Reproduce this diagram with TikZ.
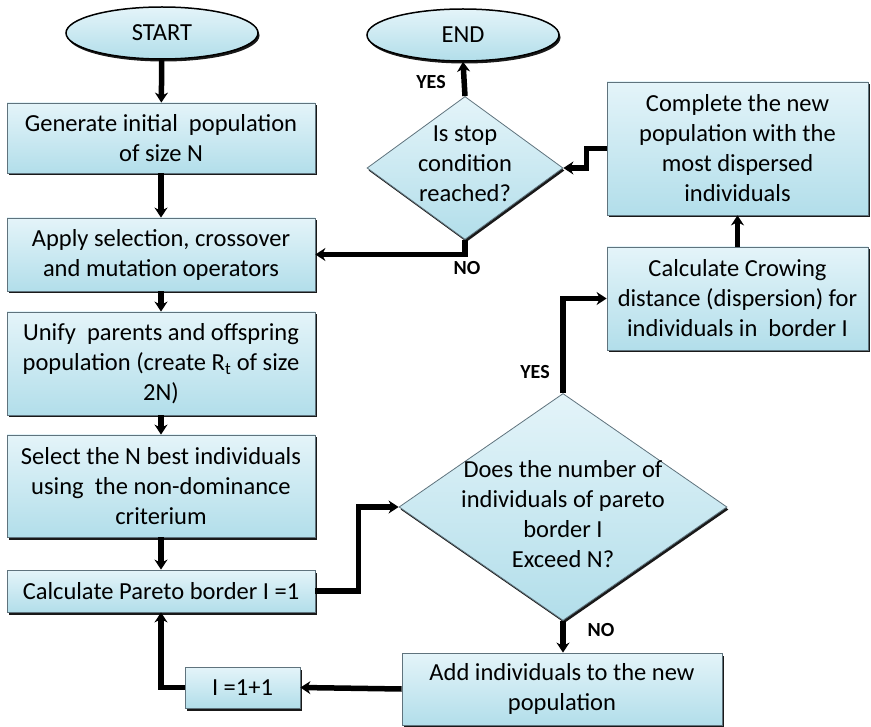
\documentclass[tikz,border=0pt]{standalone}
\usepackage{fontspec}
\setmainfont{Carlito}
\usepackage{tikz}
\usetikzlibrary{shapes.geometric,arrows.meta,shadows}

\definecolor{boxtop}{RGB}{228,244,249}
\definecolor{boxbot}{RGB}{178,222,234}
\definecolor{boxline}{RGB}{95,115,125}

\begin{document}
\begin{tikzpicture}[x=1pt,y=-1pt,
            every node/.style={font=\fontsize{24.5}{30}\selectfont},
            base/.style={draw=boxline,line width=0.8pt,top color=boxtop,bottom color=boxbot,
              drop shadow={shadow xshift=1.5pt,shadow yshift=-2.5pt,fill=black,opacity=0.9}},
            process/.style={base,rectangle,inner sep=0pt,align=center},
            terminal/.style={base,ellipse,draw=black,line width=1.5pt,inner sep=0pt,
              minimum width=192pt,minimum height=52pt},
            decision/.style={base,diamond,inner sep=0pt},
            answer/.style={font=\fontsize{20}{22}\selectfont\bfseries},
            flow/.style={line width=5.5pt,-{Stealth[length=10pt,width=13pt]}}]
            \useasboundingbox (0,0) rectangle (871,727);

            % left column
            \node[terminal] (start) at (162,33) {START};
            \node[process,minimum width=308pt,minimum height=70pt] (gen) at (161,138)
              {Generate initial\ \ population\\of size N};
            \node[process,minimum width=308pt,minimum height=73pt] (apply) at (161,254.5)
              {Apply selection, crossover\\and mutation operators};
            \node[process,minimum width=308pt,minimum height=103pt] (unify) at (161,363.5)
              {Unify\ \ parents and offspring\\population (create R\textsubscript{t} of size\\2N)};
            \node[process,minimum width=308pt,minimum height=102pt] (select) at (161,486)
              {Select the N best individuals\\using\ \ the non-dominance\\criterium};
            \node[process,minimum width=308pt,minimum height=42pt] (pareto) at (161,591)
              {Calculate Pareto border I =1};
            \node[process,minimum width=115pt,minimum height=41pt] (inc) at (242.5,687.5)
              {I =1+1};

            % right side
            \node[terminal] (end) at (463,35) {END};
            \node[decision,minimum width=196pt,minimum height=143pt] (q1) at (465,168) {};
            \node[align=center] (q1text) at (465,164) {Is stop\\condition\\reached?};
            \node[process,minimum width=261pt,minimum height=133pt] (comp) at (737.5,148.5)
              {Complete the new\\population with the\\most dispersed\\individuals};
            \node[process,minimum width=261pt,minimum height=103pt] (crow) at (737.5,298.5)
              {Calculate Crowing\\distance (dispersion) for\\individuals in\ \ border I};
            \node[decision,minimum width=328pt,minimum height=227pt] (q2) at (563,507) {};
            \node[align=center] (q2text) at (563,514)
              {Does the number of\\individuals of pareto\\border I\\Exceed N?};
            \node[process,minimum width=320pt,minimum height=72pt] (add) at (562,689)
              {Add individuals to the new\\population};

            % yes / no labels
            \node[answer] (yes1) at (431,82) {YES};
            \node[answer] (no1) at (467,268) {NO};
            \node[answer] (yes2) at (535,372) {YES};
            \node[answer] (no2) at (601,630) {NO};

            % connectors
            \draw[flow] (start) -- (gen);
            \draw[flow] (gen) -- (apply);
            \draw[flow] (apply) -- (unify);
            \draw[flow] (unify) -- (select);
            \draw[flow] (select) -- (pareto);
            \draw[flow] (pareto.east) -- ++(43,0) |- (q2.west);
            \draw[flow] (q2.north) |- (crow.west);
            \draw[flow] (crow.north) -- (crow.north |- comp.south);
            \draw[flow] (comp.west) -- ++(-20,0) |- (q1.east);
            \draw[flow] (q1.north) -- (end.south);
            \draw[flow] (q1.south) |- (apply.east);
            \draw[flow] (q2.south) -- (q2.south |- add.north);
            \draw[flow] (add.west) -- (inc.east);
            \draw[flow] (inc.west) -| (pareto.south);
          \end{tikzpicture}
\end{document}
